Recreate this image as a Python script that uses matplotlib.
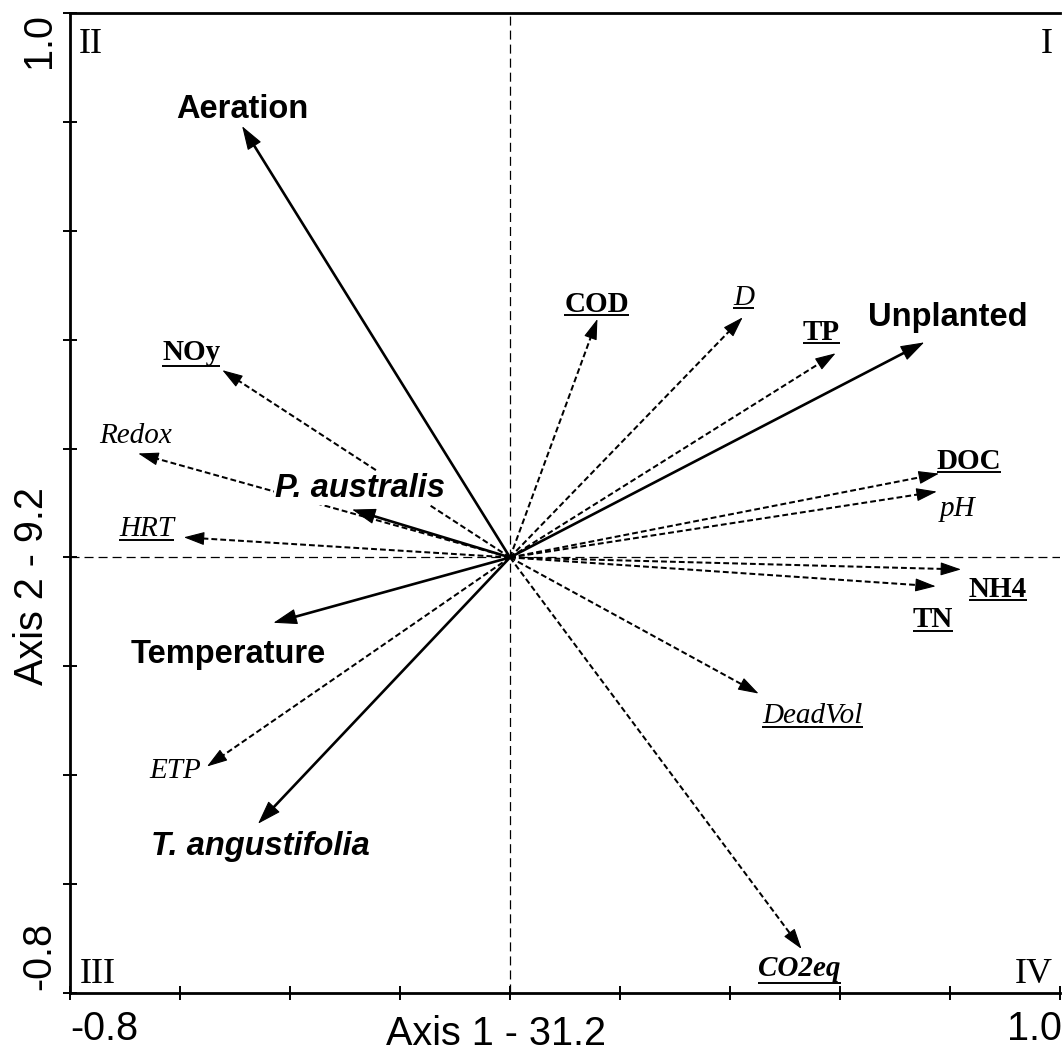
import matplotlib
matplotlib.use("Agg")
import matplotlib.pyplot as plt
import numpy as np
from matplotlib.lines import Line2D
from matplotlib.transforms import IdentityTransform

plt.rcParams["lines.scale_dashes"] = False

W, H = 1063, 1057
SERIF = "Liberation Serif"
SANS = "Liberation Sans"

# Treatment / supplementary factors (solid arrows)
treatments = ["Aeration", "Unplanted", "P. australis", "Temperature", "T. angustifolia"]
treat_x = [-0.487, 0.753, -0.287, -0.430, -0.458]
treat_y = [0.792, 0.395, 0.088, -0.120, -0.489]

# Response variables (dashed arrows)
variables = ["COD", "D", "TP", "DOC", "pH", "NH4", "TN",
             "DeadVol", "CO2eq", "ETP", "HRT", "Redox", "NOy"]
var_x = [0.159, 0.423, 0.592, 0.780, 0.776, 0.820, 0.774,
         0.452, 0.530, -0.551, -0.593, -0.676, -0.523]
var_y = [0.438, 0.441, 0.375, 0.154, 0.121, -0.022, -0.053,
         -0.250, -0.719, -0.384, 0.037, 0.191, 0.344]

axis_ticks = [-0.8, -0.6, -0.4, -0.2, 0.0, 0.2, 0.4, 0.6, 0.8, 1.0]
x_title = "Axis 1 - 31.2"
y_title = "Axis 2 - 9.2"
quadrants = ["I", "II", "III", "IV"]

# label styles: (weight, style, underline, underline gap px)
var_style = {
    "COD": ("bold", "normal", True, 3),
    "D": ("normal", "italic", True, 3),
    "TP": ("bold", "normal", True, 3),
    "DOC": ("bold", "normal", True, 3),
    "pH": ("normal", "italic", False, 0),
    "NH4": ("bold", "normal", True, 3),
    "TN": ("bold", "normal", True, 4),
    "DeadVol": ("normal", "italic", True, 4),
    "CO2eq": ("bold", "italic", True, 7),
    "ETP": ("normal", "italic", False, 0),
    "HRT": ("normal", "italic", True, 4),
    "Redox": ("normal", "italic", False, 0),
    "NOy": ("bold", "normal", True, 6),
}
treat_style = {
    "Aeration": ("bold", "normal"),
    "Unplanted": ("bold", "normal"),
    "P. australis": ("bold", "italic"),
    "Temperature": ("bold", "normal"),
    "T. angustifolia": ("bold", "italic"),
}
# label offsets from arrow tip (pixels, x right / y up), centre-baseline anchored
var_offset = {
    "COD": (-1, 7), "D": (1, 12), "TP": (-14, 13), "DOC": (30, 5),
    "pH": (21, -24), "NH4": (37, -28), "TN": (-3, -41), "DeadVol": (54, -29),
    "CO2eq": (-2, -27), "ETP": (-32, -11), "HRT": (-37, 1), "Redox": (-3, 10),
    "NOy": (-31, 10),
}
treat_offset = {
    "Aeration": (0, 8), "Unplanted": (24, 16), "P. australis": (8, 13),
    "Temperature": (-45, -40), "T. angustifolia": (2, -31),
}

fig = plt.figure(figsize=(W / 100, H / 100), dpi=100)
ax = fig.add_axes([70 / W, 1 - 993 / H, 990 / W, 980 / H])
ax.set_xlim(-0.8, 1.0)
ax.set_ylim(-0.8, 1.0)
ax.set_xticks(axis_ticks)
ax.set_yticks(axis_ticks)
ax.set_xticklabels([])
ax.set_yticklabels([])
ax.tick_params(direction="inout", length=10, width=1.4, colors="black")
for side in ["left", "bottom", "top"]:
    ax.spines[side].set_linewidth(2)
ax.spines["right"].set_visible(False)

# zero lines
ax.axhline(0, color="black", lw=0.9, ls=(0, (6.5, 3.6)), zorder=1)
ax.axvline(0, color="black", lw=0.9, ls=(0, (6.5, 3.6)), zorder=1)

SX, SY = 550.0, 544.0  # pixels per data unit


def arrow(x, y, dashed):
    lw = 1.45 if dashed else 1.9
    hl = 18.0 if dashed else 21.0      # head length, px
    hw = 5.8 if dashed else 7.0        # head half-width, px
    L = np.hypot(x * SX, y * SY)
    f = max(0.0, 1 - (hl * 0.8) / L)
    ls = (0, (4.2, 2.2)) if dashed else "-"
    ax.plot([0, x * f], [0, y * f], color="black", lw=lw, ls=ls,
            solid_capstyle="butt", zorder=3 if dashed else 4)
    g = 1 - (hl * 0.5) / L
    ms = 10
    ax.annotate("", xy=(x, y), xytext=(x * g, y * g),
                arrowprops=dict(
                    arrowstyle=f"-|>,head_length={hl / 1.389 / ms:.3f},"
                               f"head_width={hw / 1.389 / ms:.3f}",
                    mutation_scale=ms, color="black", lw=0.8,
                    shrinkA=0, shrinkB=0),
                zorder=5)


for x, y in zip(var_x, var_y):
    arrow(x, y, True)
for x, y in zip(treat_x, treat_y):
    arrow(x, y, False)

texts = []
for name, x, y in zip(variables, var_x, var_y):
    wt, st, ul, gap = var_style[name]
    dx, dy = var_offset[name]
    t = ax.annotate(name, xy=(x, y), xytext=(dx, dy), textcoords="offset pixels",
                    ha="center", va="baseline", family=SERIF, fontsize=21,
                    fontweight=wt, fontstyle=st, zorder=6)
    if ul:
        texts.append((t, x, y, dx, dy, gap))

for name, x, y in zip(treatments, treat_x, treat_y):
    wt, st = treat_style[name]
    dx, dy = treat_offset[name]
    kw = {}
    if name == "P. australis":
        kw["bbox"] = dict(facecolor="white", edgecolor="none", pad=1)
    ax.annotate(name, xy=(x, y), xytext=(dx, dy), textcoords="offset pixels",
                ha="center", va="baseline", family=SANS, fontsize=23.5,
                fontweight=wt, fontstyle=st, zorder=7, **kw)

# quadrant numerals
qkw = dict(family=SERIF, fontsize=26, va="baseline")
fig.text(1053 / W, 1 - 53 / H, quadrants[0], ha="right", **qkw)
fig.text(79 / W, 1 - 53 / H, quadrants[1], ha="left", **qkw)
fig.text(80 / W, 1 - 983 / H, quadrants[2], ha="left", **qkw)
fig.text(1053 / W, 1 - 983 / H, quadrants[3], ha="right", **qkw)

# axis end labels and titles
akw = dict(family=SANS, fontsize=28.5)
fig.text(70 / W, 1 - 1010 / H, f"{axis_ticks[0]:.1f}", ha="left", va="top", **akw)
fig.text(1062 / W, 1 - 1010 / H, f"{axis_ticks[-1]:.1f}", ha="right", va="top", **akw)
fig.text(496 / W, 1 - 1015 / H, x_title, ha="center", va="top", **akw)
fig.text(50 / W, 1 - 13 / H, f"{axis_ticks[-1]:.1f}", rotation=90,
         rotation_mode="anchor", ha="right", va="baseline", **akw)
fig.text(50 / W, 1 - 990 / H, f"{axis_ticks[0]:.1f}", rotation=90,
         rotation_mode="anchor", ha="left", va="baseline", **akw)
fig.text(43 / W, 1 - 586 / H, y_title, rotation=90,
         rotation_mode="anchor", ha="center", va="baseline", **akw)

# underline the measured-variable labels
fig.canvas.draw()
renderer = fig.canvas.get_renderer()
for t, x, y, dx, dy, gap in texts:
    bb = t.get_window_extent(renderer)
    bx, by = ax.transData.transform((x, y))
    yb = by + dy - gap
    fig.add_artist(Line2D([bb.x0, bb.x1], [yb, yb], transform=IdentityTransform(),
                          color="black", lw=1.4, solid_capstyle="butt"))

fig.savefig("out.png", dpi=100)
